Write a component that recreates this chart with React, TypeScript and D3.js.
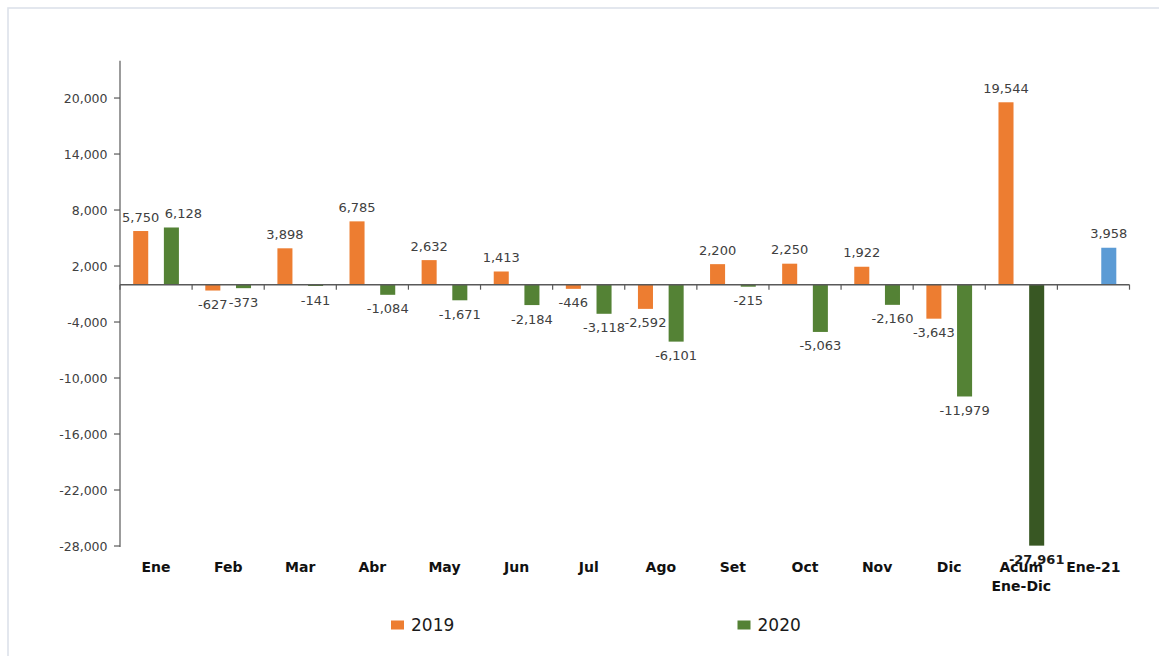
import React from "react";
import { scaleBand, scaleLinear, format } from "d3";

const categories = ["Ene", "Feb", "Mar", "Abr", "May", "Jun", "Jul", "Ago", "Set", "Oct", "Nov", "Dic", "Acum\nEne-Dic", "Ene-21"];
const values2019 = [5750, -627, 3898, 6785, 2632, 1413, -446, -2592, 2200, 2250, 1922, -3643, 19544, null];
const values2020 = [6128, -373, -141, -1084, -1671, -2184, -3118, -6101, -215, -5063, -2160, -11979, -27961, null];
const values2021 = [null, null, null, null, null, null, null, null, null, null, null, null, null, 3958];
const yTicks = [20000, 14000, 8000, 2000, -4000, -10000, -16000, -22000, -28000];
const seriesNames = ["2019", "2020"];

const ORANGE = "#ED7D31";
const GREEN = "#548235";
const DARK_GREEN = "#385723";
const BLUE = "#5B9BD5";

const W = 1159;
const H = 656;
const left = 120;
const right = 1129.5;
const top = 60.7;
const bottom = 546;

// d3 uses a unicode minus, Excel shows a plain hyphen
const fmt = (v: number) => format(",")(v).replace("\u2212", "-");
const font = "'DejaVu Sans', Verdana, sans-serif";

export default function App() {
  const x = scaleBand().domain(categories).range([left, right]).padding(0);
  const inner = scaleBand()
    .domain(seriesNames)
    .range([0, x.bandwidth()])
    .paddingInner(0.51)
    .paddingOuter(0.43);
  const y = scaleLinear().domain([-28000, 24000]).range([bottom, top]);
  const y0 = y(0);

  type Bar = { cat: string; slot: string; v: number; fill: string; strong: boolean; nudge: number };
  const bars: Bar[] = [];
  categories.forEach((c, i) => {
    const a = values2019[i];
    const b = values2020[i];
    const d = values2021[i];
    if (a != null) bars.push({ cat: c, slot: "2019", v: a, fill: ORANGE, strong: false, nudge: 0 });
    if (b != null) {
      const acum = c.startsWith("Acum");
      // the first 2020 label was dragged a bit right in the original so it clears 5,750
      bars.push({ cat: c, slot: "2020", v: b, fill: acum ? DARK_GREEN : GREEN, strong: acum, nudge: i === 0 ? 12 : 0 });
    }
    if (d != null) bars.push({ cat: c, slot: "2020", v: d, fill: BLUE, strong: false, nudge: 0 });
  });

  return (
    <svg
      width={W}
      height={H}
      style={{ position: "absolute", left: 0, top: 0, background: "#fff" }}
      fontFamily={font}
    >
      <rect x={8} y={8} width={1160} height={670} fill="none" stroke="#dde2ea" strokeWidth={1.6} />

      {/* y axis */}
      <line x1={left} x2={left} y1={top} y2={bottom + 1} stroke="#595959" strokeWidth={1.2} />
      {yTicks.map((t) => (
        <g key={t}>
          <line x1={left - 6} x2={left} y1={y(t)} y2={y(t)} stroke="#595959" strokeWidth={1.2} />
          <text
            x={left - 12.5}
            y={y(t)}
            textAnchor="end"
            dominantBaseline="central"
            fontSize={12.5}
            fill="#404040"
          >
            {fmt(t)}
          </text>
        </g>
      ))}

      {/* bars */}
      {bars.map((b, i) => {
        const bx = (x(b.cat) as number) + (inner(b.slot) as number);
        const yy = y(b.v);
        return (
          <rect
            key={i}
            x={bx}
            y={Math.min(yy, y0)}
            width={inner.bandwidth()}
            height={Math.abs(yy - y0)}
            fill={b.fill}
          />
        );
      })}

      {/* x axis at zero */}
      <line x1={left} x2={right} y1={y0} y2={y0} stroke="#595959" strokeWidth={1.4} />
      {categories.map((c) => (
        <line
          key={"t" + c}
          x1={x(c) as number}
          x2={x(c) as number}
          y1={y0}
          y2={y0 + 5}
          stroke="#595959"
          strokeWidth={1.2}
        />
      ))}
      <line x1={right} x2={right} y1={y0} y2={y0 + 5} stroke="#595959" strokeWidth={1.2} />

      {/* data labels */}
      {bars.map((b, i) => {
        const cx = (x(b.cat) as number) + (inner(b.slot) as number) + inner.bandwidth() / 2 + b.nudge;
        const ly = b.v >= 0 ? y(b.v) - 14 : y(b.v) + 14;
        return (
          <text
            key={"l" + i}
            x={cx}
            y={ly}
            textAnchor="middle"
            dominantBaseline="central"
            fontSize={13}
            fontWeight={b.strong ? "bold" : "normal"}
            fill={b.strong ? "#1a1a1a" : "#404040"}
          >
            {fmt(b.v)}
          </text>
        );
      })}

      {/* category labels */}
      {categories.map((c) => (
        <text
          key={"c" + c}
          x={(x(c) as number) + x.bandwidth() / 2}
          y={567}
          textAnchor="middle"
          dominantBaseline="central"
          fontSize={14}
          fontWeight="bold"
          fill="#111"
        >
          {c.split("\n").map((line, k) => (
            <tspan key={k} x={(x(c) as number) + x.bandwidth() / 2} dy={k === 0 ? 0 : 18.5}>
              {line}
            </tspan>
          ))}
        </text>
      ))}

      {/* legend */}
      {seriesNames.map((s, i) => {
        const lx = i === 0 ? 391 : 737.5;
        return (
          <g key={"lg" + s}>
            <rect x={lx} y={620.5} width={13} height={9} fill={i === 0 ? ORANGE : GREEN} />
            <text x={lx + 20} y={625} dominantBaseline="central" fontSize={17} fill="#1a1a1a">
              {s}
            </text>
          </g>
        );
      })}
    </svg>
  );
}
